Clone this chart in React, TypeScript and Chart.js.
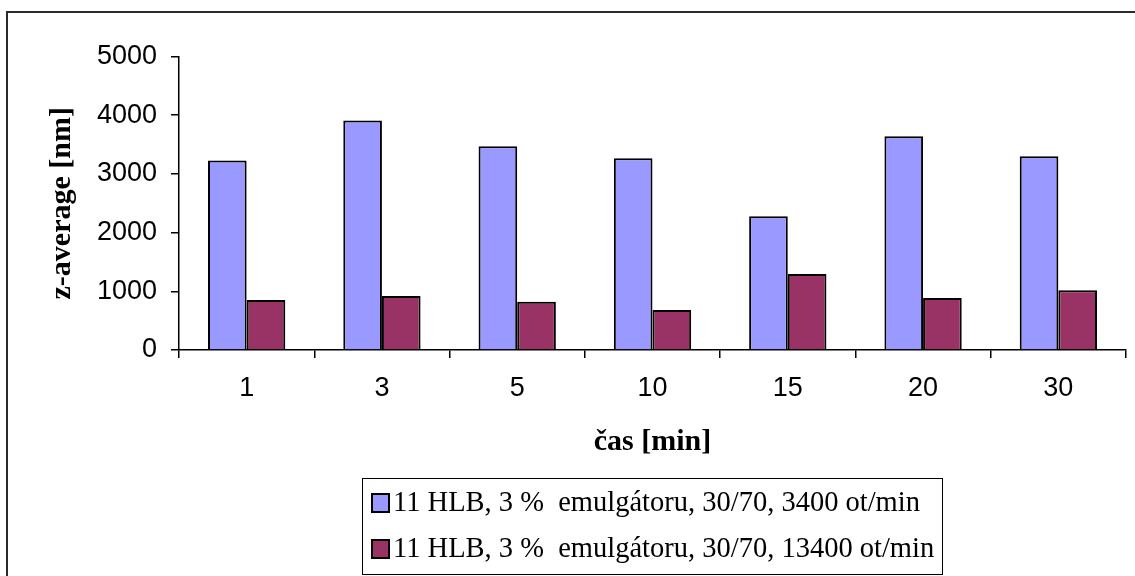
import React, { useEffect, useRef } from "react";
import { Chart, registerables } from "chart.js";

Chart.register(...registerables);

const categories = ["1", "3", "5", "10", "15", "20", "30"];
const series1Label = "11 HLB, 3 %  emulgátoru, 30/70, 3400 ot/min";
const series2Label = "11 HLB, 3 %  emulgátoru, 30/70, 13400 ot/min";
const series1 = [3230, 3910, 3470, 3265, 2280, 3640, 3300];
const series2 = [850, 918, 822, 680, 1293, 884, 1020];
const yMin = 0;
const yMax = 5000;
const yStep = 1000;
const xTitle = "čas [min]";
const yTitle = "z-average [nm]";

const W = 1135;
const H = 576;

const decorPlugin = {
  id: "decor",
  afterDraw(chart: any) {
    const ctx = chart.ctx as CanvasRenderingContext2D;
    ctx.save();
    // outer frame
    ctx.strokeStyle = "#2a2a2a";
    ctx.lineWidth = 2;
    ctx.strokeRect(7, 12, 1400, 800);
    // legend box
    ctx.strokeStyle = "#000";
    ctx.lineWidth = 1;
    ctx.strokeRect(362.5, 478.5, 580, 96);
    chart.data.datasets.forEach((ds: any, i: number) => {
      const cy = 503 + i * 46;
      ctx.fillStyle = ds.backgroundColor;
      ctx.fillRect(372, cy - 9, 17, 18);
      ctx.lineWidth = 2;
      ctx.strokeStyle = "#000";
      ctx.strokeRect(372, cy - 9, 17, 18);
      ctx.fillStyle = "#000";
      ctx.font = '28.5px "Liberation Serif", "Times New Roman", serif';
      ctx.textBaseline = "middle";
      ctx.textAlign = "left";
      ctx.fillText(ds.label, 393, cy + 1);
    });
    ctx.restore();
  },
};

export default function App() {
  const ref = useRef<HTMLCanvasElement | null>(null);
  useEffect(() => {
    if (!ref.current) return;
    const chart = new Chart(ref.current, {
      type: "bar",
      data: {
        labels: categories,
        datasets: [
          {
            label: series1Label,
            data: series1,
            backgroundColor: "#9999FF",
            borderColor: "#000",
            borderWidth: 2,
            categoryPercentage: 2 / 3.5,
            barPercentage: 1,
          },
          {
            label: series2Label,
            data: series2,
            backgroundColor: "#993366",
            borderColor: "#000",
            borderWidth: 2,
            categoryPercentage: 2 / 3.5,
            barPercentage: 1,
          },
        ],
      },
      options: {
        responsive: false,
        animation: false,
        devicePixelRatio: 1,
        layout: { padding: { left: 0, right: 9, top: 56.5, bottom: 0 } },
        plugins: {
          legend: { display: false },
          tooltip: { enabled: false },
        },
        scales: {
          x: {
            grid: {
              drawOnChartArea: false,
              drawTicks: true,
              tickLength: 8,
              color: "#000",
              lineWidth: 1.5,
              offset: true,
            },
            border: { color: "#000", width: 1.5 },
            ticks: {
              color: "#000",
              padding: 14,
              maxRotation: 0,
              font: { family: '"Liberation Sans", Arial, sans-serif', size: 27 },
            },
            title: {
              display: true,
              text: xTitle,
              color: "#000",
              padding: { top: 0, bottom: 116 },
              font: { family: '"Liberation Serif", "Times New Roman", serif', size: 30, weight: "bold" },
            },
            afterFit(scale: any) {
              scale.height = 226;
            },
          },
          y: {
            min: yMin,
            max: yMax,
            ticks: {
              stepSize: yStep,
              color: "#000",
              padding: 14,
              callback: (v: any) => String(v),
              font: { family: '"Liberation Sans", Arial, sans-serif', size: 27 },
            },
            grid: {
              drawOnChartArea: false,
              drawTicks: true,
              tickLength: 8,
              color: "#000",
              lineWidth: 1.5,
            },
            border: { color: "#000", width: 1.5 },
            title: {
              display: true,
              text: yTitle,
              color: "#000",
              padding: { top: 44, bottom: 0 },
              font: { family: '"Liberation Serif", "Times New Roman", serif', size: 30, weight: "bold" },
            },
            afterFit(scale: any) {
              scale.width = 179;
            },
          },
        },
      },
      plugins: [decorPlugin],
    } as any);
    return () => chart.destroy();
  }, []);
  return (
    <div style={{ position: "absolute", left: 0, top: 0, width: W, height: H, background: "#fff" }}>
      <canvas ref={ref} width={W} height={H} style={{ display: "block", width: W, height: H }} />
    </div>
  );
}
